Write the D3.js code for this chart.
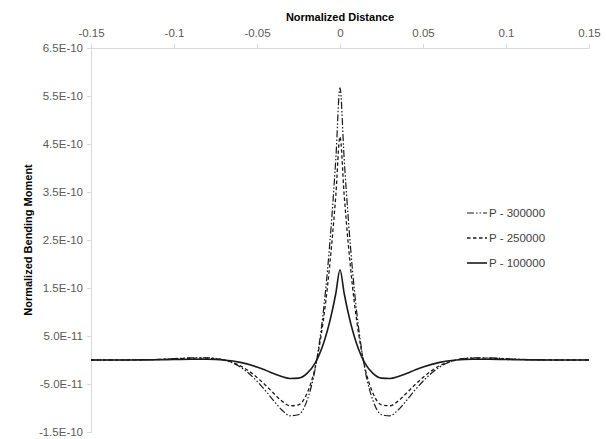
<!DOCTYPE html>
<html>
<head>
<meta charset="utf-8">
<script src="https://cdn.jsdelivr.net/npm/d3@7"></script>
<style>
  html, body { margin: 0; padding: 0; background: #ffffff; }
  svg { display: block; }
</style>
</head>
<body>
<svg id="chart" width="606" height="439"></svg>
<script>
// ---- data (moment values in units of 1E-10) ----
const UNIT = 1e-10;
const xValues = [-0.15, -0.13, -0.12, -0.11, -0.10, -0.09, -0.08, -0.07, -0.06, -0.05, -0.045, -0.04, -0.035, -0.03, -0.025, -0.02, -0.015, -0.0125, -0.01, -0.0075, -0.005, -0.0025, 0,
                 0.0025, 0.005, 0.0075, 0.01, 0.0125, 0.015, 0.02, 0.025, 0.03, 0.035, 0.04, 0.045, 0.05, 0.06, 0.07, 0.08, 0.09, 0.10, 0.11, 0.12, 0.13, 0.15];

const p300000 = [0, 0, 0.006, 0.011, 0.028, 0.045, 0.045, 0, -0.147, -0.442, -0.635, -0.845, -1.043, -1.162, -1.14, -0.856, -0.193, 0.34, 1.02, 1.88, 2.94, 4.20, 5.67,
                 4.20, 2.94, 1.88, 1.02, 0.34, -0.193, -0.856, -1.14, -1.162, -1.043, -0.845, -0.635, -0.442, -0.147, 0, 0.045, 0.045, 0.028, 0.011, 0.006, 0, 0];

const p250000 = [0, 0, 0.005, 0.009, 0.023, 0.037, 0.037, 0, -0.121, -0.363, -0.521, -0.693, -0.856, -0.953, -0.935, -0.702, -0.158, 0.279, 0.837, 1.54, 2.41, 3.44, 4.65,
                 3.44, 2.41, 1.54, 0.837, 0.279, -0.158, -0.702, -0.935, -0.953, -0.856, -0.693, -0.521, -0.363, -0.121, 0, 0.037, 0.037, 0.023, 0.009, 0.005, 0, 0];

const p100000 = [0, 0, 0.002, 0.004, 0.010, 0.015, 0.016, 0, -0.049, -0.147, -0.211, -0.280, -0.346, -0.385, -0.378, -0.284, -0.064, 0.113, 0.338, 0.624, 0.974, 1.391, 1.88,
                 1.391, 0.974, 0.624, 0.338, 0.113, -0.064, -0.284, -0.378, -0.385, -0.346, -0.280, -0.211, -0.147, -0.049, 0, 0.016, 0.015, 0.010, 0.004, 0.002, 0, 0];

const seriesNames = ["P - 300000", "P - 250000", "P - 100000"];

const xTickValues = [-0.15, -0.1, -0.05, 0, 0.05, 0.1, 0.15];
const xTickLabels = ["-0.15", "-0.1", "-0.05", "0", "0.05", "0.1", "0.15"];
const yTickValues = [6.5, 5.5, 4.5, 3.5, 2.5, 1.5, 0.5, -0.5, -1.5];
const yTickLabels = ["6.5E-10", "5.5E-10", "4.5E-10", "3.5E-10", "2.5E-10", "1.5E-10", "5.0E-11", "-5.0E-11", "-1.5E-10"];

const xTitle = "Normalized Distance";
const yTitle = "Normalized Bending Moment";

// ---- layout ----
const svg = d3.select("#chart");
const plotLeft = 91, plotRight = 589, plotTop = 48, plotBottom = 432;
const font = "'Liberation Sans', Arial, sans-serif";
const axisColor = "#d9d9d9";
const textColor = "#595959";

const x = d3.scaleLinear().domain([-0.15, 0.15]).range([plotLeft, plotRight]);
const y = d3.scaleLinear().domain([-1.5 * UNIT, 6.5 * UNIT]).range([plotBottom, plotTop]);

// X axis at top
const xAxis = d3.axisTop(x)
  .tickValues(xTickValues)
  .tickFormat((d, i) => xTickLabels[i])
  .tickSize(4)
  .tickPadding(7);
const gx = svg.append("g").attr("transform", `translate(0,${plotTop})`).call(xAxis);
gx.select(".domain").attr("stroke", axisColor).attr("stroke-width", 1);
gx.selectAll(".tick line").attr("stroke", axisColor);
gx.selectAll(".tick text").attr("fill", textColor).attr("font-family", font).attr("font-size", 11.5);

// Y axis at left
const yAxis = d3.axisLeft(y)
  .tickValues(yTickValues.map(v => v * UNIT))
  .tickFormat((d, i) => yTickLabels[i])
  .tickSize(4)
  .tickPadding(4);
const gy = svg.append("g").attr("transform", `translate(${plotLeft},0)`).call(yAxis);
gy.select(".domain").attr("stroke", axisColor).attr("stroke-width", 1);
gy.selectAll(".tick line").attr("stroke", axisColor);
gy.selectAll(".tick text").attr("fill", textColor).attr("font-family", font).attr("font-size", 11.5);

// Titles
svg.append("text")
  .attr("x", x(0)).attr("y", 21)
  .attr("text-anchor", "middle")
  .attr("font-family", font).attr("font-size", 11).attr("font-weight", "bold")
  .attr("fill", "#000")
  .text(xTitle);

svg.append("text")
  .attr("transform", `translate(32,${(plotTop + plotBottom) / 2}) rotate(-90)`)
  .attr("text-anchor", "middle")
  .attr("font-family", font).attr("font-size", 11).attr("font-weight", "bold")
  .attr("fill", "#000")
  .text(yTitle);

// Lines
const styles = [
  { data: p300000, dash: "7,2,1.5,2,1.5,2", width: 1.2 },
  { data: p250000, dash: "3.5,2.5", width: 1.3 },
  { data: p100000, dash: null, width: 1.6 }
];

const line = d3.line()
  .x(d => x(d[0]))
  .y(d => y(d[1] * UNIT))
  .curve(d3.curveMonotoneX);

styles.forEach(s => {
  const pts = xValues.map((xv, i) => [xv, s.data[i]]);
  svg.append("path")
    .datum(pts)
    .attr("d", line)
    .attr("fill", "none")
    .attr("stroke", "#1a1a1a")
    .attr("stroke-width", s.width)
    .attr("stroke-dasharray", s.dash);
});

// Legend
const legendX = 467, legendY0 = 213, legendStep = 25;
seriesNames.forEach((name, i) => {
  const ly = legendY0 + i * legendStep;
  svg.append("line")
    .attr("x1", legendX).attr("x2", legendX + 20)
    .attr("y1", ly).attr("y2", ly)
    .attr("stroke", "#1a1a1a")
    .attr("stroke-width", styles[i].width)
    .attr("stroke-dasharray", styles[i].dash);
  svg.append("text")
    .attr("x", legendX + 22).attr("y", ly + 4)
    .attr("font-family", font).attr("font-size", 11.5)
    .attr("fill", "#404040")
    .text(name);
});
</script>
</body>
</html>
